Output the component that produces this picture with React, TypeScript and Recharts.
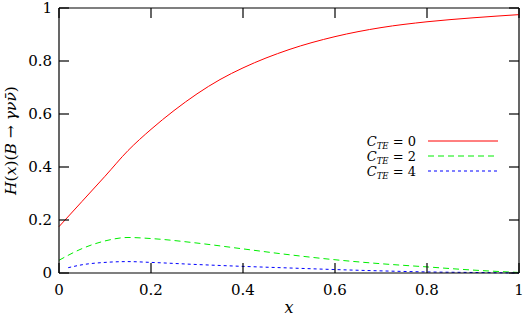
import React from "react";
import { LineChart, Line, XAxis, YAxis, ReferenceLine } from "recharts";

// H(x) for the three C_TE values
const xRed = [0, 0.05, 0.1, 0.15, 0.2, 0.25, 0.3, 0.35, 0.4, 0.5, 0.6, 0.7, 0.8, 0.9, 1.0];
const cte0 = [0.175, 0.27, 0.365, 0.462, 0.542, 0.613, 0.676, 0.73, 0.774, 0.843, 0.892, 0.926, 0.948, 0.963, 0.975];

const xGreen = [0, 0.05, 0.1, 0.15, 0.2, 0.3, 0.4, 0.5, 0.6, 0.7, 0.8, 0.9, 1.0];
const cte2 = [0.048, 0.092, 0.121, 0.134, 0.13, 0.113, 0.091, 0.069, 0.05, 0.035, 0.023, 0.011, 0.002];

const xBlue = [0.02, 0.05, 0.1, 0.15, 0.2, 0.3, 0.4, 0.5, 0.6, 0.7, 0.8, 0.9, 1.0];
const cte4 = [0.02, 0.031, 0.04, 0.043, 0.04, 0.032, 0.025, 0.019, 0.013, 0.008, 0.004, 0.002, 0.0];

const xTicks = [0, 0.2, 0.4, 0.6, 0.8, 1];
const yTicks = [0, 0.2, 0.4, 0.6, 0.8, 1];
const legendLabels = ["0", "2", "4"];

const red = xRed.map((x, i) => ({ x, y: cte0[i] }));
const green = xGreen.map((x, i) => ({ x, y: cte2[i] }));
const blue = xBlue.map((x, i) => ({ x, y: cte4[i] }));

// chart box: plot area follows from margins + axis sizes
const W = 526;
const H = 319;
const M = { top: 8, right: 7, bottom: 0, left: 0 };
const Y_AXIS_W = 59;
const X_AXIS_H = 46;
const plot = {
  left: M.left + Y_AXIS_W,
  right: W - M.right,
  top: M.top,
  bottom: H - M.bottom - X_AXIS_H,
};
const TICK = 10;

const frame = { stroke: "#000", strokeWidth: 1.2 };
const tickStyle = { fontSize: 15, fill: "#000", className: "serif" };

function YLabel(props: any) {
  const vb = props.viewBox;
  const cx = vb.x + 16;
  const cy = vb.y + vb.height / 2;
  return (
    <text
      className="serif"
      x={cx}
      y={cy}
      transform={`rotate(-90 ${cx} ${cy})`}
      textAnchor="middle"
      fontSize={15.5}
      fill="#000"
    >
      <tspan fontStyle="italic">H</tspan>(<tspan fontStyle="italic">x</tspan>)(<tspan fontStyle="italic">B</tspan> → <tspan fontStyle="italic">γνν̄</tspan>)
    </text>
  );
}

function XLabel(props: any) {
  const vb = props.viewBox;
  return (
    <text
      className="serif"
      x={vb.x + vb.width / 2}
      y={vb.y + 40}
      textAnchor="middle"
      fontStyle="italic"
      fontSize={16}
      fill="#000"
    >
      x
    </text>
  );
}

// mirrored inward ticks on left, right and top edges of the frame
function FrameTicks() {
  const sx = (v: number) => plot.left + v * (plot.right - plot.left);
  const sy = (v: number) => plot.bottom - v * (plot.bottom - plot.top);
  return (
    <svg width={W} height={H} style={{ position: "absolute", left: 0, top: 0, pointerEvents: "none" }}>
      {yTicks.map((v) => (
        <g key={`y${v}`}>
          <line x1={plot.left} x2={plot.left + TICK} y1={sy(v)} y2={sy(v)} stroke="#000" strokeWidth={1.2} />
          <line x1={plot.right} x2={plot.right - TICK} y1={sy(v)} y2={sy(v)} stroke="#000" strokeWidth={1.2} />
        </g>
      ))}
      {xTicks.map((v) => (
        <line key={`x${v}`} x1={sx(v)} x2={sx(v)} y1={plot.top} y2={plot.top + TICK} stroke="#000" strokeWidth={1.2} />
      ))}
    </svg>
  );
}

const legendItems = [
  { label: legendLabels[0], color: "#ff0000", dash: undefined },
  { label: legendLabels[1], color: "#00ee00", dash: "6 4" },
  { label: legendLabels[2], color: "#0000ff", dash: "3 3" },
];

function LegendBox() {
  return (
    <svg width={150} height={50} style={{ position: "absolute", left: 360, top: 131 }}>
      {legendItems.map((it, i) => {
        const cy = 10 + i * 15;
        return (
          <g key={i}>
            <text className="serif" x={56} y={cy + 5} textAnchor="end" fontSize={13} fill="#000">
              <tspan fontStyle="italic">C</tspan>
              <tspan fontStyle="italic" fontSize={8.5} dy={3}>TE</tspan>
              <tspan dy={-3}> = {it.label}</tspan>
            </text>
            <line x1={68} x2={138} y1={cy} y2={cy} stroke={it.color} strokeWidth={1} strokeDasharray={it.dash} />
          </g>
        );
      })}
    </svg>
  );
}

export default function App() {
  return (
    <div style={{ width: W, height: H, position: "relative" }}>
      <style>{`body{margin:0} text.serif, text.serif tspan { font-family: "DejaVu Serif", serif !important; }`}</style>
      <LineChart width={W} height={H} margin={M}>
        <XAxis
          xAxisId="b"
          dataKey="x"
          type="number"
          domain={[0, 1]}
          ticks={xTicks}
          interval={0}
          height={X_AXIS_H}
          tickSize={-10}
          tickMargin={21}
          tickLine={frame}
          tick={tickStyle}
          axisLine={frame}
          allowDuplicatedCategory={false}
          label={{ content: <XLabel /> }}
        />
        <YAxis
          yAxisId="l"
          type="number"
          domain={[0, 1]}
          ticks={yTicks}
          interval={0}
          width={Y_AXIS_W}
          tickSize={0}
          tickMargin={7}
          tickLine={false}
          tick={tickStyle}
          axisLine={frame}
          label={{ content: <YLabel /> }}
        />
        {/* top and right frame */}
        <ReferenceLine xAxisId="b" yAxisId="l" y={1} stroke="#000" strokeWidth={1.2} />
        <ReferenceLine xAxisId="b" yAxisId="l" x={1} stroke="#000" strokeWidth={1.2} />
        <Line
          xAxisId="b"
          yAxisId="l"
          data={red}
          dataKey="y"
          type="monotone"
          stroke="#ff0000"
          strokeWidth={1}
          dot={false}
          isAnimationActive={false}
        />
        <Line
          xAxisId="b"
          yAxisId="l"
          data={green}
          dataKey="y"
          type="monotone"
          stroke="#00ee00"
          strokeWidth={1}
          strokeDasharray="6 4"
          dot={false}
          isAnimationActive={false}
        />
        <Line
          xAxisId="b"
          yAxisId="l"
          data={blue}
          dataKey="y"
          type="monotone"
          stroke="#0000ff"
          strokeWidth={1}
          strokeDasharray="3 3"
          dot={false}
          isAnimationActive={false}
        />
      </LineChart>
      <FrameTicks />
      <LegendBox />
    </div>
  );
}
